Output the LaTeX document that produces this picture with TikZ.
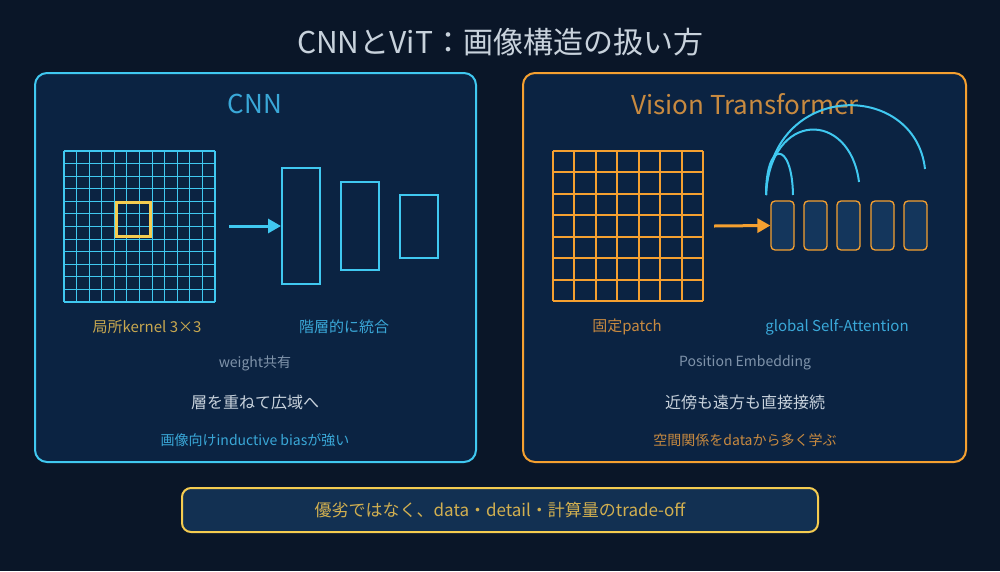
\documentclass[tikz,border=0pt]{standalone}
\usepackage{fontspec}
\setmainfont{Noto Sans CJK JP}
\usetikzlibrary{arrows.meta}
\definecolor{bg}{HTML}{0A1628}
\definecolor{panel}{HTML}{0B2342}
\definecolor{cyanc}{HTML}{40C8F0}
\definecolor{orangec}{HTML}{F5A030}
\definecolor{yel}{HTML}{F5CC50}
\definecolor{tok}{HTML}{14365C}
\definecolor{grayt}{HTML}{7F93AA}
\definecolor{lgray}{HTML}{C8D2DC}
\definecolor{cyant}{HTML}{3AA8D8}
\definecolor{oranget}{HTML}{C88A40}
\definecolor{yelt}{HTML}{C8A850}
\tikzset{
  panelbox/.style={draw=#1,line width=2pt,fill=panel,rounded corners=12pt},
  lbl/.style={font=\fontsize{15}{17}\selectfont,anchor=center},
  cyanline/.style={draw=cyanc,line width=1.1pt},
  fm/.style={draw=cyanc,line width=2pt},
  tokst/.style={draw=orangec,line width=1.3pt,fill=tok,rounded corners=4pt},
  attn/.style={draw=cyanc,line width=2pt},
  bigarrow/.style={line width=3pt,-{Triangle[length=13pt,width=14pt]}}
}
\begin{document}
\begin{tikzpicture}[x=1pt,y=-1pt]
\fill[bg] (0,0) rectangle (1000,571);
\useasboundingbox (0,0) rectangle (1000,571);
\node[font=\fontsize{30}{34}\selectfont,text=lgray] (title) at (500,42) {CNNとViT：画像構造の扱い方};
% panels
\draw[panelbox=cyanc] (35,73) rectangle (476,462);
\draw[panelbox=orangec] (523,73) rectangle (966,462);
\node[font=\fontsize{26}{30}\selectfont,text=cyant] (cnn) at (255,104) {CNN};
\node[font=\fontsize{26}{30}\selectfont,text=oranget] (vit) at (745,104) {Vision Transformer};
% CNN grid
\foreach \k in {0,...,12} {
  \draw[cyanline] ({64+12.58*\k},151) -- ({64+12.58*\k},302);
  \draw[cyanline] (64,{151+12.58*\k}) -- (215,{151+12.58*\k});
}
\draw[draw=yel,line width=3pt] (116,202) rectangle (150,236);
\coordinate (ca) at (229,226);
\node[fm,minimum width=38pt,minimum height=116pt,inner sep=0] (r1) at (301,226) {};
\node[fm,minimum width=38pt,minimum height=88pt,inner sep=0] (r2) at (360,226) {};
\node[fm,minimum width=38pt,minimum height=63pt,inner sep=0] (r3) at (419,226) {};
\draw[cyanc,bigarrow] (ca) -- (r1.west);
% ViT grid
\foreach \k in {0,...,7} {
  \draw[draw=orangec,line width=2pt] ({553+21.43*\k},151) -- ({553+21.43*\k},301);
  \draw[draw=orangec,line width=2pt] (553,{151+21.43*\k}) -- (703,{151+21.43*\k});
}
\coordinate (va) at (714,226);
\foreach \i/\x in {1/782.5,2/815.5,3/848.5,4/882.5,5/915.5}
  \node[tokst,minimum width=23pt,minimum height=49pt,inner sep=0] (t\i) at (\x,225.5) {};
\draw[orangec,bigarrow] (va) -- (t1.west);
% attention arcs
\coordinate (a0) at (766,195);
\coordinate (a1) at (793,195);
\coordinate (a2) at (859,182);
\coordinate (a3) at (925,169);
\draw[attn] (a0) .. controls (766,140) and (792,140) .. (a1);
\draw[attn] (a0) .. controls (770,110) and (850,110) .. (a2);
\draw[attn] (a0) .. controls (770,80) and (915,80) .. (a3);
% labels
\node[lbl,text=yelt] (l1) at (147,327) {局所kernel 3×3};
\node[lbl,text=cyant] (l2) at (344,327) {階層的に統合};
\node[font=\fontsize{14}{16}\selectfont,text=grayt] (l3) at (255,363) {weight共有};
\node[font=\fontsize{16}{18}\selectfont,text=lgray] (l4) at (255,402) {層を重ねて広域へ};
\node[font=\fontsize{14}{16}\selectfont,text=cyant] (l5) at (255,440) {画像向けinductive biasが強い};
\node[lbl,text=oranget] (m1) at (627,327) {固定patch};
\node[lbl,text=cyant] (m2) at (837,327) {global Self-Attention};
\node[font=\fontsize{14}{16}\selectfont,text=grayt] (m3) at (745,363) {Position Embedding};
\node[font=\fontsize{16}{18}\selectfont,text=lgray] (m4) at (745,402) {近傍も遠方も直接接続};
\node[font=\fontsize{14}{16}\selectfont,text=oranget] (m5) at (745,440) {空間関係をdataから多く学ぶ};
% bottom
\draw[draw=yel,line width=2pt,fill=tok!80!bg,rounded corners=9pt] (182,488) rectangle (818,532);
\node[font=\fontsize{17}{20}\selectfont,text=yelt!80!yel] (b) at (500,510) {優劣ではなく、data・detail・計算量のtrade-off};
\end{tikzpicture}
\end{document}
